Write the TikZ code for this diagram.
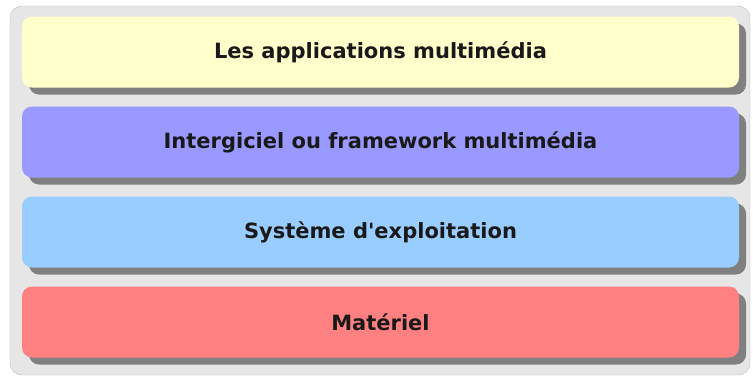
\documentclass[tikz,border=0pt]{standalone}
\usepackage{fontspec}
\setmainfont{DejaVu Sans}
\usetikzlibrary{shadows}

\definecolor{framegray}{HTML}{E6E6E6}
\definecolor{framedraw}{HTML}{B8B8B8}
\definecolor{shadowgray}{HTML}{808080}
\definecolor{appyellow}{HTML}{FFFFCC}
\definecolor{midpurple}{HTML}{9999FF}
\definecolor{osblue}{HTML}{99CCFF}
\definecolor{hwred}{HTML}{FF8080}

\tikzset{
    layer/.style={rounded corners=10pt, minimum width=717pt, minimum height=71pt,
        inner sep=0pt, font=\bfseries\fontsize{21}{25}\selectfont, text=black!90,
        drop shadow={shadow xshift=7pt, shadow yshift=-7pt, fill=shadowgray, opacity=1}}
}

\begin{document}
\begin{tikzpicture}[x=1pt,y=-1pt]

    \useasboundingbox (0,0) rectangle (753,376);

    \draw[framedraw,fill=framegray,rounded corners=12pt] (10,6) rectangle (750,375);

    \node (apps) [layer,fill=appyellow]  at (380.5,52)  {Les applications multimédia};
    \node (mid)  [layer,fill=midpurple]  at (380.5,142) {Intergiciel ou framework multimédia};
    \node (os)   [layer,fill=osblue]     at (380.5,232) {Système d\textquotesingle exploitation};
    \node (hw)   [layer,fill=hwred]      at (380.5,322) {Matériel};

\end{tikzpicture}
\end{document}
